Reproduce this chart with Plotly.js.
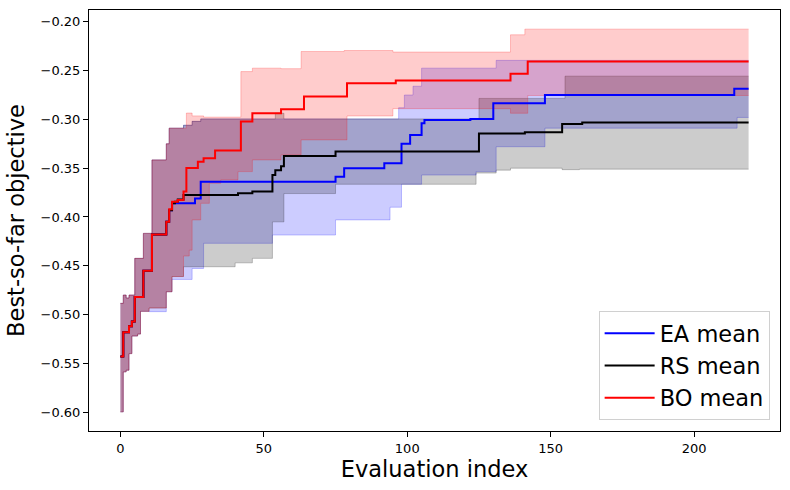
<!DOCTYPE html>
<html><head><meta charset="utf-8">
<script src="https://cdn.plot.ly/plotly-3.0.1.min.js"></script>
<style>html,body{margin:0;padding:0;background:#fff}</style>
</head><body><div id="chart" style="width:790px;height:490px"></div>
<script>
// Mean curves (step breakpoints: value holds from x onward)
const eaMeanX = [0,1,3,4,5,8,11,16,17,18,26,28,75,78,92,98,101,105,106,122,130,148,214,219];
const eaMeanY = [-0.543,-0.518,-0.512,-0.507,-0.482,-0.455,-0.418,-0.405,-0.393,-0.386,-0.381,-0.3638,-0.3587,-0.350,-0.345,-0.325,-0.316,-0.304,-0.3005,-0.2995,-0.2834,-0.2749,-0.2687,-0.2687];
const rsMeanX = [0,1,3,4,5,8,11,16,17,18,19,20,22,41,46,53,54,56,57,75,125,141,154,161,219];
const rsMeanY = [-0.543,-0.518,-0.512,-0.507,-0.482,-0.455,-0.418,-0.405,-0.393,-0.386,-0.3843,-0.382,-0.3774,-0.3757,-0.374,-0.357,-0.352,-0.348,-0.3375,-0.333,-0.3145,-0.3131,-0.3046,-0.3033,-0.3033];
const boMeanX = [0,1,3,4,5,8,11,16,17,18,20,22,23,27,29,33,42,46,56,64,79,96,136,142,219];
const boMeanY = [-0.543,-0.518,-0.512,-0.507,-0.482,-0.455,-0.418,-0.405,-0.392,-0.3843,-0.3826,-0.374,-0.3497,-0.3433,-0.3398,-0.3318,-0.3022,-0.2937,-0.2896,-0.2766,-0.2629,-0.2602,-0.2533,-0.2407,-0.2407];

// Band edges
const eaUpX = [0,1,2,3,5,8,11,16,17,22,25,28,97,99,102,105,131,219];
const eaUpY = [-0.4885,-0.480,-0.483,-0.480,-0.4424,-0.4168,-0.3415,-0.325,-0.309,-0.306,-0.302,-0.2995,-0.288,-0.275,-0.266,-0.2475,-0.2395,-0.2395];
const eaLoX = [0,1,2,3,4,6,7,10,16,18,25,29,53,75,94,98,105,124,131,148,215,219];
const eaLoY = [-0.5997,-0.5587,-0.557,-0.540,-0.522,-0.520,-0.4967,-0.497,-0.4766,-0.464,-0.4528,-0.427,-0.4185,-0.403,-0.390,-0.3665,-0.357,-0.3535,-0.328,-0.309,-0.298,-0.298];
const rsUpX = [0,1,2,3,5,8,11,16,17,22,25,28,54,57,125,155,219];
const rsUpY = [-0.4885,-0.480,-0.483,-0.480,-0.4424,-0.4168,-0.3415,-0.325,-0.309,-0.306,-0.302,-0.2995,-0.2937,-0.2995,-0.2785,-0.2557,-0.2557];
const rsLoX = [0,1,2,3,4,6,7,10,16,18,22,40,46,53,57,75,124,131,136,154,160,219];
const rsLoY = [-0.5997,-0.5587,-0.557,-0.540,-0.522,-0.520,-0.4967,-0.4933,-0.4766,-0.461,-0.451,-0.447,-0.4424,-0.405,-0.376,-0.3665,-0.355,-0.352,-0.350,-0.3515,-0.351,-0.351];
const boUpX = [0,1,2,3,5,8,11,16,17,23,25,29,42,46,56,63,78,95,136,141,219];
const boUpY = [-0.4885,-0.480,-0.483,-0.480,-0.4424,-0.4168,-0.3415,-0.325,-0.309,-0.2935,-0.2964,-0.2977,-0.251,-0.2475,-0.248,-0.2304,-0.2294,-0.231,-0.2133,-0.2075,-0.2075];
const boLoX = [0,1,2,3,4,6,7,10,16,18,22,24,25,28,31,35,41,46,56,63,79,95,136,142,219];
const boLoY = [-0.5997,-0.5587,-0.557,-0.540,-0.522,-0.520,-0.4967,-0.4933,-0.4766,-0.461,-0.44,-0.434,-0.403,-0.386,-0.3654,-0.362,-0.3535,-0.3415,-0.3364,-0.321,-0.2965,-0.289,-0.2937,-0.2755,-0.2755];

const yTicks = [-0.60,-0.55,-0.50,-0.45,-0.40,-0.35,-0.30,-0.25,-0.20];
const xTicks = [0,50,100,150,200];

function band(xu, yu, xl, yl, rgb) {
  const edge = {color: 'rgba(' + rgb + ',0.22)', width: 1, shape: 'hv'};
  return [
    {x: xu, y: yu, mode: 'lines', line: edge, showlegend: false, hoverinfo: 'skip'},
    {x: xl, y: yl, mode: 'lines', line: edge, fill: 'tonexty', fillcolor: 'rgba(' + rgb + ',0.2)', showlegend: false, hoverinfo: 'skip'}
  ];
}
function mean(x, y, color, name) {
  return {x: x, y: y, mode: 'lines', name: name, line: {color: color, width: 2, shape: 'hv'}, hoverinfo: 'skip'};
}

const data = [].concat(
  band(eaUpX, eaUpY, eaLoX, eaLoY, '0,0,255'),
  band(rsUpX, rsUpY, rsLoX, rsLoY, '0,0,0'),
  band(boUpX, boUpY, boLoX, boLoY, '255,0,0'),
  [mean(eaMeanX, eaMeanY, '#0000ff', 'EA mean'),
   mean(rsMeanX, rsMeanY, '#000000', 'RS mean'),
   mean(boMeanX, boMeanY, '#ff0000', 'BO mean')]
);

const axisCommon = {
  showline: true, mirror: true, linecolor: '#000', linewidth: 1,
  ticks: 'outside', ticklen: 5, tickwidth: 1, tickcolor: '#000',
  showgrid: false, zeroline: false,
  tickfont: {family: 'DejaVu Sans', size: 13, color: '#000'}
};

const layout = {
  width: 790, height: 490,
  margin: {l: 89, r: 10, t: 10, b: 59},
  paper_bgcolor: '#fff', plot_bgcolor: '#fff',
  font: {family: 'DejaVu Sans', color: '#000'},
  xaxis: Object.assign({}, axisCommon, {
    range: [-10.95, 229.95], tickvals: xTicks,
    title: {text: 'Evaluation index', font: {family: 'DejaVu Sans', size: 22.5, color: '#000'}, standoff: 5}
  }),
  yaxis: Object.assign({}, axisCommon, {
    range: [-0.6193, -0.1879], tickvals: yTicks, tickformat: '.2f',
    title: {text: 'Best-so-far objective', font: {family: 'DejaVu Sans', size: 22.5, color: '#000'}, standoff: 9}
  }),
  legend: {
    x: 0.985, y: 0.026, xanchor: 'right', yanchor: 'bottom',
    traceorder: 'normal', itemwidth: 50,
    bgcolor: 'rgba(255,255,255,0.8)', bordercolor: '#d0d0d0', borderwidth: 1,
    font: {family: 'DejaVu Sans', size: 22.5, color: '#000'}
  },
  showlegend: true
};

Plotly.newPlot('chart', data, layout, {displayModeBar: false, staticPlot: true});
</script>
</body></html>
